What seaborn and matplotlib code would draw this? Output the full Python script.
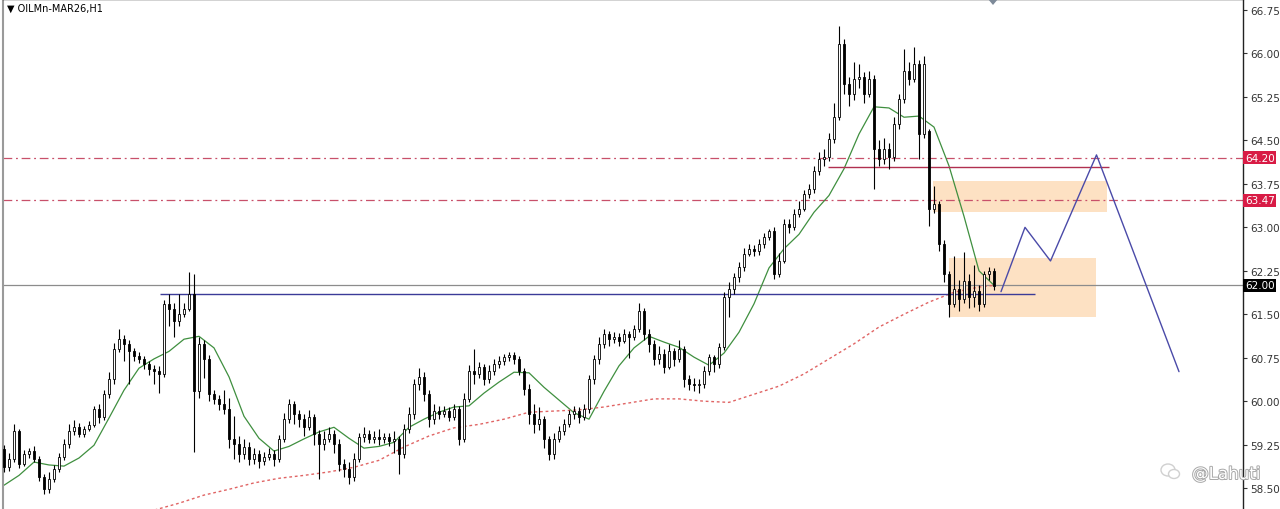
import numpy as np
import pandas as pd
import matplotlib
matplotlib.use("Agg")
import matplotlib.pyplot as plt
import matplotlib.patheffects as pe
from matplotlib.patches import Rectangle, Polygon, Ellipse
from matplotlib.transforms import blended_transform_factory
import seaborn as sns

# ---------------- data ----------------
symbol_title = "OILMn-MAR26,H1"
first_open = 59.17
closes = [
    58.86, 59.00, 59.48, 58.91, 59.09, 59.14, 59.00, 58.69, 58.48, 58.66,
    58.83, 59.03, 59.26, 59.48, 59.55, 59.43, 59.52, 59.59, 59.86, 59.73,
    60.12, 60.38, 60.90, 61.07, 60.99, 60.86, 60.78, 60.73, 60.64, 60.55,
    60.52, 60.47, 61.68, 61.59, 61.38, 61.50, 61.59, 61.85, 60.17, 60.99,
    60.73, 60.12, 60.04, 59.95, 59.86, 59.35, 59.26, 59.09, 59.21, 59.00,
    59.09, 58.97, 59.03, 59.09, 59.00, 59.35, 59.69, 59.95, 59.78, 59.69,
    59.55, 59.73, 59.43, 59.26, 59.35, 59.43, 59.26, 58.91, 58.83, 58.69,
    59.00, 59.38, 59.43, 59.35, 59.38, 59.35, 59.38, 59.31, 59.35, 59.09,
    59.52, 59.78, 60.29, 60.42, 60.12, 59.69, 59.83, 59.78, 59.83, 59.73,
    59.86, 59.35, 60.04, 60.52, 60.47, 60.59, 60.38, 60.52, 60.64, 60.69,
    60.76, 60.80, 60.73, 60.52, 60.21, 59.78, 59.60, 59.69, 59.35, 59.09,
    59.35, 59.48, 59.60, 59.78, 59.83, 59.73, 59.86, 60.38, 60.73, 60.99,
    61.16, 61.07, 61.11, 61.04, 61.16, 61.11, 61.24, 61.55, 61.16, 60.99,
    60.73, 60.81, 60.59, 60.86, 60.73, 60.90, 60.38, 60.29, 60.28, 60.29,
    60.52, 60.76, 60.64, 60.93, 61.80, 61.93, 62.14, 62.31, 62.54, 62.63,
    62.59, 62.71, 62.83, 62.94, 62.19, 62.42, 63.06, 63.01, 63.23, 63.32,
    63.57, 63.66, 63.97, 64.18, 64.21, 64.52, 64.90, 66.17, 65.47, 65.30,
    65.56, 65.60, 65.30, 65.56, 64.35, 64.18, 64.35, 64.21, 64.78, 65.21,
    65.70, 65.56, 65.82, 64.61, 65.82, 63.32, 63.40, 62.71, 62.19, 61.68,
    61.93, 61.76, 62.07, 61.80, 61.90, 61.68, 62.19, 62.25, 61.99,
]
highs = [
    59.25, 59.10, 59.60, 59.52, 59.15, 59.20, 59.22, 59.05, 58.75, 58.78,
    58.90, 59.10, 59.35, 59.60, 59.68, 59.62, 59.58, 59.66, 59.92, 59.95,
    60.20, 60.50, 61.00, 61.24, 61.15, 61.05, 60.92, 60.85, 60.78, 60.70,
    60.62, 60.60, 61.75, 61.85, 61.70, 61.85, 61.70, 62.23, 62.20, 61.10,
    61.05, 60.80, 60.20, 60.10, 60.20, 60.05, 59.75, 59.40, 59.35, 59.30,
    59.20, 59.15, 59.12, 59.20, 59.15, 59.42, 59.80, 60.04, 60.00, 59.85,
    59.78, 59.85, 59.78, 59.50, 59.48, 59.55, 59.50, 59.35, 59.00, 58.95,
    59.10, 59.45, 59.55, 59.50, 59.48, 59.52, 59.45, 59.45, 59.48, 59.40,
    59.60, 59.90, 60.38, 60.58, 60.50, 60.20, 59.95, 59.92, 59.92, 59.90,
    59.95, 59.92, 60.15, 60.62, 60.90, 60.68, 60.65, 60.62, 60.72, 60.78,
    60.82, 60.85, 60.85, 60.78, 60.58, 60.30, 59.95, 59.90, 59.75, 59.40,
    59.45, 59.58, 59.70, 59.85, 59.92, 59.90, 59.95, 60.45, 60.80, 61.10,
    61.25, 61.22, 61.20, 61.18, 61.25, 61.22, 61.32, 61.70, 61.60, 61.25,
    61.05, 60.95, 60.90, 60.98, 60.92, 61.05, 60.95, 60.45, 60.40, 60.38,
    60.60, 60.82, 60.80, 61.00, 61.88, 62.05, 62.22, 62.40, 62.65, 62.72,
    62.70, 62.80, 62.90, 62.98, 63.00, 62.55, 63.14, 63.15, 63.32, 63.45,
    63.65, 63.75, 64.05, 64.30, 64.35, 64.62, 65.15, 66.47, 66.25, 65.60,
    65.85, 65.82, 65.68, 65.70, 65.62, 64.50, 64.55, 64.45, 64.90, 65.30,
    66.08, 65.85, 66.11, 65.88, 65.96, 64.70, 63.72, 63.45, 62.78, 62.25,
    62.50, 62.10, 62.57, 62.20, 62.35, 62.00, 62.25, 62.32, 62.30,
]
lows = [
    58.78, 58.80, 58.95, 58.85, 58.88, 59.02, 58.95, 58.62, 58.40, 58.42,
    58.60, 58.78, 58.98, 59.20, 59.42, 59.38, 59.38, 59.48, 59.55, 59.62,
    59.68, 60.05, 60.30, 60.85, 60.70, 60.30, 60.70, 60.66, 60.55, 60.45,
    60.30, 60.15, 60.42, 61.30, 61.10, 61.30, 61.45, 61.55, 59.12, 60.05,
    60.40, 60.00, 59.95, 59.85, 59.78, 59.20, 59.00, 58.95, 59.00, 58.90,
    58.92, 58.85, 58.90, 58.98, 58.88, 58.95, 59.30, 59.62, 59.60, 59.55,
    59.40, 59.50, 59.25, 58.65, 59.15, 59.30, 59.10, 58.80, 58.70, 58.58,
    58.62, 58.95, 59.30, 59.28, 59.28, 59.25, 59.28, 59.22, 59.10, 58.75,
    59.02, 59.45, 59.70, 60.20, 60.00, 59.55, 59.60, 59.70, 59.72, 59.65,
    59.68, 59.25, 59.30, 59.98, 60.30, 60.40, 60.28, 60.32, 60.45, 60.58,
    60.62, 60.70, 60.65, 60.45, 60.10, 59.60, 59.45, 59.50, 59.20, 58.98,
    59.00, 59.30, 59.42, 59.55, 59.70, 59.62, 59.68, 59.80, 60.30, 60.65,
    60.92, 60.95, 61.00, 60.95, 61.00, 60.75, 61.05, 61.20, 61.05, 60.85,
    60.62, 60.65, 60.48, 60.55, 60.60, 60.68, 60.25, 60.20, 60.18, 60.15,
    60.22, 60.45, 60.50, 60.58, 60.88, 61.45, 61.85, 62.05, 62.25, 62.50,
    62.50, 62.52, 62.65, 62.78, 62.11, 62.15, 62.38, 62.90, 62.95, 63.18,
    63.28, 63.50, 63.60, 63.90, 64.05, 64.15, 64.45, 64.85, 65.30, 65.10,
    65.20, 65.40, 65.15, 65.25, 63.66, 64.05, 64.10, 64.01, 64.15, 64.70,
    65.15, 65.45, 65.50, 64.18, 64.55, 63.02, 63.25, 62.60, 62.05, 61.45,
    61.62, 61.55, 61.70, 61.60, 61.62, 61.55, 61.62, 62.10, 61.92,
]
gap_opens = {185: 64.66}          # session gap: open differs from previous close

fast_ma_step = 3
fast_ma = [
    58.55, 58.72, 58.95, 58.90, 58.88, 59.02, 59.24, 59.71, 60.19, 60.57,
    60.73, 60.86, 61.07, 61.12, 60.92, 60.42, 59.74, 59.36, 59.14, 59.22,
    59.35, 59.47, 59.55, 59.36, 59.19, 59.22, 59.29, 59.55, 59.69, 59.81,
    59.90, 59.92, 60.14, 60.33, 60.50, 60.49, 60.24, 60.02, 59.80, 59.69,
    60.17, 60.61, 60.92, 61.12, 61.02, 60.93, 60.76, 60.62, 60.83, 61.19,
    61.68, 62.30, 62.63, 62.88, 63.26, 63.55, 64.01, 64.61, 65.08, 65.06,
    64.90, 64.92, 64.73, 64.06, 63.19, 62.25, 62.00,
]
slow_ma_start = 30
slow_ma_step = 5
slow_ma = [
    58.12, 58.24, 58.38, 58.48, 58.59, 58.67, 58.72, 58.78, 58.86, 58.98,
    59.21, 59.40, 59.54, 59.60, 59.69, 59.81, 59.83, 59.85, 59.90, 59.97,
    60.04, 60.04, 60.00, 59.98, 60.12, 60.26, 60.47, 60.73, 60.99, 61.28,
    61.50, 61.71, 61.88, 61.97, 62.00,
]

resistance_levels = [64.20, 63.47]
current_price = 62.00
breakout_level = 61.85          # navy horizontal
top_level = 64.04               # crimson horizontal
zone_upper = (63.26, 63.80)
zone_lower = (61.45, 62.47)
proj_bars = [199.4, 204.2, 209.3, 218.5, 235.0]
proj_prices = [61.89, 63.00, 62.42, 64.25, 60.51]

tick_values = [66.75, 66.00, 65.25, 64.50, 63.75, 63.00, 62.25, 61.50,
               60.75, 60.00, 59.25, 58.50]

# ---------------- figure ----------------
sns.set_style("white")
plt.rcParams['font.family'] = ['DejaVu Sans']

W, H = 1280, 510
fig = plt.figure(figsize=(W / 100, H / 100), dpi=100)
ax = fig.add_axes([3 / W, 0, 1240 / W, 1])
ax.set_xlim(-0.2, 247.8)
ax.set_ylim(58.14, 66.94)

n = len(closes)
idx = np.arange(n)
opens = [first_open] + closes[:-1]
for k, v in gap_opens.items():
    opens[k] = v
df = pd.DataFrame({"i": idx, "open": opens, "close": closes,
                   "high": highs, "low": lows})

# zones (behind)
ax.add_patch(Rectangle((185.8, zone_upper[0]), 220.6 - 185.8,
                       zone_upper[1] - zone_upper[0],
                       facecolor="#fde1c3", edgecolor="none", zorder=0))
ax.add_patch(Rectangle((189.0, zone_lower[0]), 218.4 - 189.0,
                       zone_lower[1] - zone_lower[0],
                       facecolor="#fde1c3", edgecolor="none", zorder=0))

# level lines
for lv in resistance_levels:
    ax.axhline(lv, color="#c8506a", lw=0.9, dashes=(7, 3, 1.5, 3), zorder=1)
ax.axhline(current_price, color="#8c8c8c", lw=0.9, zorder=1)
ax.hlines(breakout_level, 31.2, 206.2, color="#3b3b98", lw=1.0, zorder=3)
ax.hlines(top_level, 164.8, 221.0, color="#b03050", lw=1.0, zorder=3)

# moving averages
fast_df = pd.DataFrame({"i": [min(k * fast_ma_step, n - 1) for k in range(len(fast_ma))],
                        "v": fast_ma})
slow_df = pd.DataFrame({"i": [min(slow_ma_start + k * slow_ma_step, n - 1)
                              for k in range(len(slow_ma))],
                        "v": slow_ma})
sns.lineplot(data=fast_df, x="i", y="v", ax=ax, color="#3f8f3f", lw=0.9,
             zorder=2, legend=False)
sns.lineplot(data=slow_df, x="i", y="v", ax=ax, color="#e06464", lw=1.0,
             linestyle=(0, (2, 2)), zorder=2, legend=False)

# candles
ax.vlines(df["i"], df["low"], df["high"], color="black", lw=0.8, zorder=4)
bull = df["close"] >= df["open"]
body_lo = np.minimum(df["open"], df["close"])
body_h = np.maximum(np.abs(df["close"] - df["open"]), 0.02)
ax.bar(df["i"][bull], body_h[bull], bottom=body_lo[bull], width=0.55,
       color="white", edgecolor="black", linewidth=0.6, zorder=5)
ax.bar(df["i"][~bull], body_h[~bull], bottom=body_lo[~bull], width=0.55,
       color="black", edgecolor="black", linewidth=0.6, zorder=5)

# projection path
proj_df = pd.DataFrame({"i": proj_bars, "v": proj_prices})
sns.lineplot(data=proj_df, x="i", y="v", ax=ax, color="#4a4aa8", lw=1.0,
             sort=False, zorder=3, legend=False)

# axes style
ax.set_xlabel("")
ax.set_ylabel("")
ax.set_xticks([])
ax.yaxis.tick_right()
ax.set_yticks(tick_values)
ax.set_yticklabels([f"{v:.2f}" for v in tick_values], fontsize=7.5,
                   color="#333333")
ax.tick_params(axis="y", direction="out", length=3, width=0.8, pad=2,
               colors="#333333")
ax.spines["bottom"].set_visible(False)
ax.spines["left"].set_color("#9a9a9a")
ax.spines["left"].set_linewidth(1.5)
ax.spines["top"].set_color("#222222")
ax.spines["right"].set_color("#222222")
ax.spines["top"].set_linewidth(1.0)
ax.spines["right"].set_linewidth(1.0)

# price labels on right axis
tr = blended_transform_factory(ax.transAxes, ax.transData)
for lv in resistance_levels:
    ax.text(1.0015, lv, f"{lv:.2f}", transform=tr, fontsize=7.5,
            color="white", va="center", ha="left", zorder=10,
            bbox=dict(boxstyle="square,pad=0.15", fc="#d81b45", ec="none"),
            clip_on=False)
ax.text(1.0015, current_price, f"{current_price:.2f}", transform=tr,
        fontsize=7.5, color="white", va="center", ha="left", zorder=10,
        bbox=dict(boxstyle="square,pad=0.15", fc="black", ec="none"),
        clip_on=False)

# title
ax.text(0.003, 0.992, "\u25BC " + symbol_title, transform=ax.transAxes,
        fontsize=7, color="black", va="top", ha="left")

# shift marker at top
fig.patches.append(Polygon([[988 / W, 1.0], [998 / W, 1.0], [993 / W, 1 - 6 / H]],
                           closed=True, transform=fig.transFigure,
                           facecolor="#7d8a99", edgecolor="none"))

# watermark
fig.text(1192 / W, 1 - 475 / H, "@Lahuti", fontsize=12, color="white",
         va="center", ha="left",
         path_effects=[pe.withStroke(linewidth=1.4, foreground="#a8a8a8")])
fig.patches.append(Ellipse((1168 / W, 1 - 471 / H), 14 / W, 12 / H,
                           transform=fig.transFigure, facecolor="white",
                           edgecolor="#d0d0d0", lw=1.0))
fig.patches.append(Ellipse((1174 / W, 1 - 475 / H), 11 / W, 9 / H,
                           transform=fig.transFigure, facecolor="white",
                           edgecolor="#d0d0d0", lw=1.0))

fig.savefig("out.png", dpi=100)
